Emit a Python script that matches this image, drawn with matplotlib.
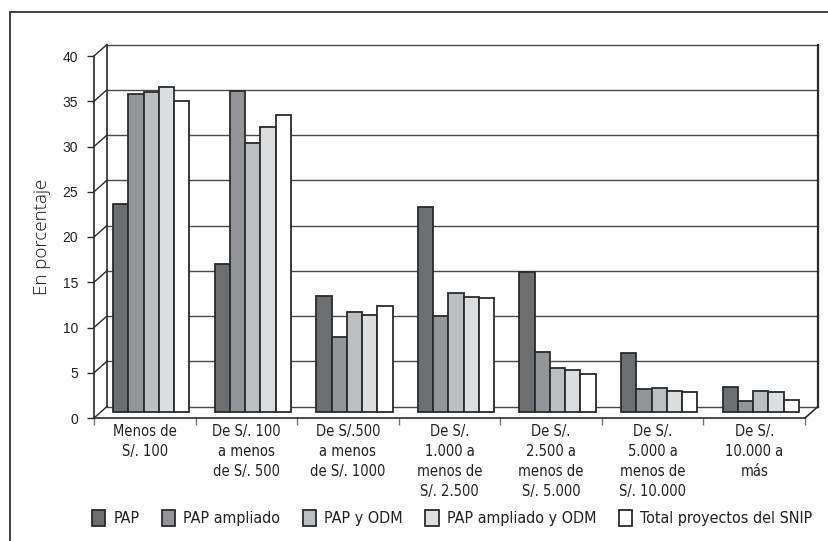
import matplotlib
matplotlib.use("Agg")
import matplotlib.pyplot as plt
import numpy as np
from matplotlib.transforms import offset_copy, IdentityTransform
from matplotlib.lines import Line2D
from matplotlib.patches import Rectangle
from matplotlib.font_manager import FontProperties

categories = [
    "Menos de\nS/. 100",
    "De S/. 100\na menos\nde S/. 500",
    "De S/.500\na menos\nde S/. 1000",
    "De S/.\n1.000 a\nmenos de\nS/. 2.500",
    "De S/.\n2.500 a\nmenos de\nS/. 5.000",
    "De S/.\n5.000 a\nmenos de\nS/. 10.000",
    "De S/.\n10.000 a\nmás",
]
series_names = ["PAP", "PAP ampliado", "PAP y ODM", "PAP ampliado y ODM",
                "Total proyectos del SNIP"]
pap = [23.0, 16.4, 12.8, 22.7, 15.5, 6.6, 2.8]
pap_ampliado = [35.2, 35.5, 8.3, 10.6, 6.7, 2.6, 1.2]
pap_odm = [35.4, 29.7, 11.1, 13.2, 4.9, 2.7, 2.3]
pap_ampliado_odm = [35.9, 31.5, 10.7, 12.7, 4.7, 2.4, 2.2]
total_snip = [34.4, 32.9, 11.7, 12.6, 4.2, 2.2, 1.4]
y_ticks = [0, 5, 10, 15, 20, 25, 30, 35, 40]

series = [pap, pap_ampliado, pap_odm, pap_ampliado_odm, total_snip]
colors = ["#6d6e70", "#939598", "#bcbec0", "#dcdddf", "#ffffff"]
edge = "#2b2b2b"


def narrow_font(size):
    return FontProperties(family=["DejaVu Sans"], stretch="condensed", size=size)


W, H, DPI = 829, 541, 100
fig = plt.figure(figsize=(W / DPI, H / DPI), dpi=DPI)

# front plane of the 3D box (in pixels)
x0, x1, y0, y1 = 94, 805, 418, 56
ax = fig.add_axes([x0 / W, (H - y0) / H, (x1 - x0) / W, (y0 - y1) / H])
ax.set_xlim(-0.5, len(categories) - 0.5)
ax.set_ylim(0, 40)
ax.patch.set_visible(False)

# depth offsets (pixels) for the back wall and the bar plane
DX, DY = 13, 11.5
back = offset_copy(ax.transData, fig=fig, x=DX, y=DY, units="dots")
mid = offset_copy(ax.transData, fig=fig, x=DX / 2, y=DY / 2, units="dots")

grid_c = "#4a4a4a"
xmin, xmax = -0.5, len(categories) - 0.5
# back wall grid lines
for v in y_ticks:
    ax.plot([xmin, xmax], [v, v], color=grid_c, lw=1.0, transform=back,
            clip_on=False, zorder=1)
# back wall borders
ax.plot([xmin, xmin], [0, 40], color=edge, lw=1.2, transform=back, clip_on=False, zorder=1)
ax.plot([xmax, xmax], [0, 40], color=edge, lw=1.6, transform=back, clip_on=False, zorder=1)


# side wall and floor diagonals
def diag(x, v, lw=1.0, color=edge):
    px, py = ax.transData.transform((x, v))
    line = Line2D([px, px + DX], [py, py + DY], color=color, lw=lw,
                  transform=IdentityTransform(), zorder=1)
    fig.add_artist(line)


for v in y_ticks:
    diag(xmin, v)
diag(xmax, 0, lw=1.2)

# bars
n = len(series)
bw = 0.15
x = np.arange(len(categories))
handles = []
for i, (vals, c, name) in enumerate(zip(series, colors, series_names)):
    b = ax.bar(x + (i - (n - 1) / 2) * bw, vals, width=bw, color=c,
               edgecolor=edge, linewidth=1.3, transform=mid, label=name,
               zorder=3, clip_on=False)
    handles.append(b)

# axes styling
for s in ["top", "right"]:
    ax.spines[s].set_visible(False)
for s in ["left", "bottom"]:
    ax.spines[s].set_color(edge)
    ax.spines[s].set_linewidth(1.2)

ax.set_yticks(y_ticks)
ax.tick_params(axis="y", length=5, width=1.0, color=edge, pad=6.5,
               labelsize=10, labelcolor="#222222")
for t in ax.get_yticklabels():
    t.set_family(["Liberation Sans", "DejaVu Sans"])

ax.set_xticks(x)
ax.set_xticklabels(categories)
ax.tick_params(axis="x", which="major", length=0, pad=4, labelcolor="#222222")
for t in ax.get_xticklabels():
    t.set_fontproperties(narrow_font(10.5))
    t.set_linespacing(1.42)
    t.set_verticalalignment("top")
ax.set_xticks(np.arange(len(categories) + 1) - 0.5, minor=True)
ax.tick_params(axis="x", which="minor", length=5, width=1.0, color="#777777")

ax.set_ylabel("En porcentaje", fontsize=13.5, family=["Open Sans", "DejaVu Sans"],
              fontweight="light", color="#1a1a1a", labelpad=8)

# legend
leg = fig.legend(handles=handles, labels=series_names, loc="center",
                 bbox_to_anchor=(452 / W, (H - 518) / H), ncol=5, frameon=False,
                 prop=narrow_font(11.5), handlelength=0.85,
                 handleheight=1.2, handletextpad=0.5, columnspacing=1.4,
                 borderaxespad=0)
for t in leg.get_texts():
    t.set_color("#222222")

# outer frame
fig.add_artist(Rectangle((10 / W, -0.05), 1.0, (H - 12) / H + 0.05,
                         transform=fig.transFigure, fill=False,
                         edgecolor="#333333", lw=1.3))

fig.savefig("out.png", dpi=DPI)
